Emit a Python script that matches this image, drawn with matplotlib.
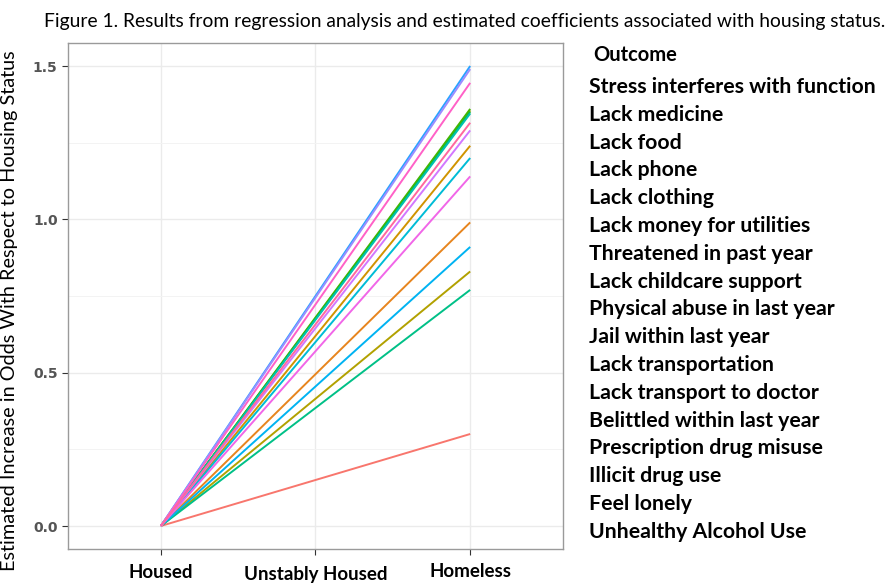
"""
Figure 1 recreation: estimated coefficients by housing status, one line per outcome.
"""

import numpy as np
import matplotlib
matplotlib.use("Agg")
import matplotlib.pyplot as plt
from matplotlib.ticker import MultipleLocator

# legend order, as in the source figure
outcomes = [
    "Stress interferes with function",
    "Lack medicine",
    "Lack food",
    "Lack phone",
    "Lack clothing",
    "Lack money for utilities",
    "Threatened in past year",
    "Lack childcare support",
    "Physical abuse in last year",
    "Jail within last year",
    "Lack transportation",
    "Lack transport to doctor",
    "Belittled within last year",
    "Prescription drug misuse",
    "Illicit drug use",
    "Feel lonely",
    "Unhealthy Alcohol Use",
]
housing_levels = ["Housed", "Unstably Housed", "Homeless"]
housed_coef = [0.0] * len(outcomes)
homeless_coef = [0.30, 0.99, 1.24, 0.83, 1.355, 1.36, 1.35, 0.77, 1.345,
                 1.20, 0.91, 1.50, 1.49, 1.29, 1.14, 1.445, 1.315]


def hue_pal(n, l=65.0, c=100.0, h0=15.0):
    """ggplot2-style evenly spaced HCL hues -> sRGB tuples."""
    hues = np.linspace(h0, h0 + 360, n + 1)[:-1]
    xn, yn, zn = 95.047, 100.0, 108.883
    un = 4 * xn / (xn + 15 * yn + 3 * zn)
    vn = 9 * yn / (xn + 15 * yn + 3 * zn)
    m = np.array([[3.2404542, -1.5371385, -0.4985314],
                  [-0.9692660, 1.8760108, 0.0415560],
                  [0.0556434, -0.2040259, 1.0572252]])
    cols = []
    for h in hues:
        u = c * np.cos(np.radians(h))
        v = c * np.sin(np.radians(h))
        y = yn * ((l + 16) / 116) ** 3
        up = u / (13 * l) + un
        vp = v / (13 * l) + vn
        x = 9 * y * up / (4 * vp)
        z = -x / 3 - 5 * y + 3 * y / vp
        rgb = m @ (np.array([x, y, z]) / 100)
        rgb = np.where(rgb <= 0.0031308, 12.92 * rgb,
                       1.055 * np.abs(rgb) ** (1 / 2.4) - 0.055)
        cols.append(tuple(np.clip(rgb, 0, 1)))
    return cols


colors = hue_pal(len(outcomes))

plt.rcParams["font.family"] = ["Lato", "DejaVu Sans"]

fig = plt.figure(figsize=(8.93, 5.83), dpi=100)
ax = fig.add_axes([68 / 893, 1 - 549 / 583, (563 - 68) / 893, (549 - 43) / 583])

x_pos = np.arange(1, len(housing_levels) + 1)
for name, y0, y1, col in zip(outcomes, housed_coef, homeless_coef, colors):
    ax.plot([x_pos[0], x_pos[2]], [y0, y1], color=col, lw=1.4,
            solid_capstyle="butt", zorder=3)

ax.set_xlim(0.4, 3.6)
ax.set_ylim(-0.075, 1.575)
ax.set_xticks(x_pos)
ax.set_xticklabels(housing_levels, fontsize=13.5, fontweight="bold")
ax.yaxis.set_major_locator(MultipleLocator(0.5))
ax.yaxis.set_minor_locator(MultipleLocator(0.25))
ax.set_yticks([0, 0.5, 1.0, 1.5])
ax.set_yticklabels(["0.0", "0.5", "1.0", "1.5"], fontsize=10,
                   fontweight="bold", color="#555555", family="DejaVu Sans")
ax.tick_params(axis="y", which="minor", length=0)
ax.tick_params(axis="both", which="major", length=4, color="#333333",
               width=0.8)
ax.tick_params(axis="x", pad=7)

ax.grid(True, which="major", color="#EBEBEB", lw=1.0, zorder=0)
ax.grid(True, which="minor", axis="y", color="#F3F3F3", lw=0.7, zorder=0)
ax.set_axisbelow(True)
for sp in ax.spines.values():
    sp.set_color("#9A9A9A")
    sp.set_linewidth(1.0)

# nudge x labels like the pasted labels in the source
for lab, dy in zip(ax.get_xticklabels(), [0, -2, 2]):
    lab.set_y(lab.get_position()[1] + dy / 583)

ax.set_ylabel("Estimated Increase in Odds With Respect to Housing Status",
              fontsize=14.3, labelpad=8)
ax.yaxis.set_label_coords(-50 / 495, 0.47)

fig.text(465 / 893, 1 - 21 / 583,
         "Figure 1. Results from regression analysis and estimated "
         "coefficients associated with housing status.",
         ha="center", va="center", fontsize=13.9)

# legend text (the source shows no key glyphs)
fig.text(593 / 893, 1 - 55 / 583, "Outcome", ha="left", va="center",
         fontsize=14.5, fontweight="bold")
y_first, y_step = 87, 27.8
for i, name in enumerate(outcomes):
    fig.text(589 / 893, 1 - (y_first + i * y_step) / 583, name,
             ha="left", va="center", fontsize=15.3, fontweight="bold")

fig.savefig("out.png", dpi=100, facecolor="white")
